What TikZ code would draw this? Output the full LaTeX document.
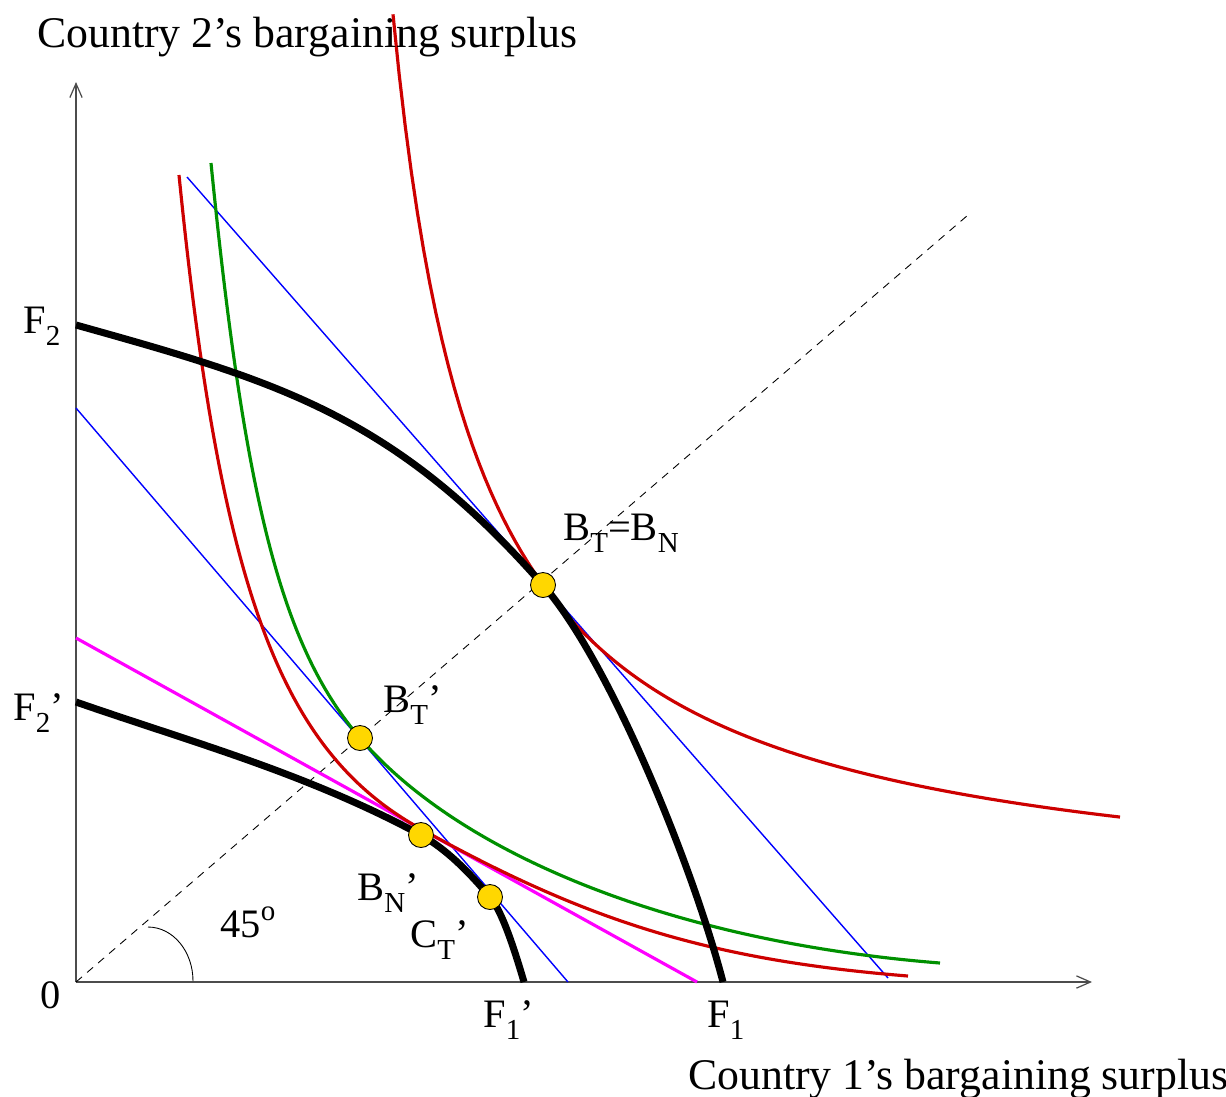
\documentclass[tikz,border=0pt]{standalone}
\usepackage{fontspec}
\usepackage{graphicx}
\setmainfont{Liberation Serif}
\usetikzlibrary{arrows.meta}
\definecolor{xred}{RGB}{205,0,0}
\definecolor{xgreen}{RGB}{0,144,0}
\definecolor{xgold}{RGB}{255,215,0}
\definecolor{xmagenta}{RGB}{255,0,255}
\newcommand\lsub[1]{\raisebox{-0.3em}{\fontsize{16.5}{18}\selectfont #1}}
\newcommand\lsup[1]{\raisebox{0.42em}{\fontsize{16.5}{18}\selectfont #1}}
\begin{document}
\begin{tikzpicture}[x=0.02cm,y=-0.02cm,
  axis/.style={draw=black!70, line width=0.7pt, -{Straight Barb[length=8pt,width=7pt]}},
  diagline/.style={draw=black, line width=0.5pt, dash pattern=on 4.5pt off 3.8pt},
  frontier/.style={draw=black, line width=4pt, line join=round},
  indiffred/.style={draw=xred, line width=1.8pt},
  indiffgreen/.style={draw=xgreen, line width=1.8pt},
  budget/.style={draw=blue, line width=0.8pt},
  tangent/.style={draw=xmagenta, line width=1.8pt},
  pt/.style={circle, fill=xgold, draw=black, line width=0.5pt, minimum size=0.5cm, inner sep=0pt},
  lbl/.style={inner sep=0pt, anchor=base west, font=\fontsize{23}{27}\selectfont},
  title/.style={inner sep=0pt, anchor=base west, font=\fontsize{24.9}{29}\selectfont}]
\useasboundingbox (0,0) rectangle (1226,1096);

% axes
\coordinate (O) at (76,982);
\coordinate (ytop) at (76,82);
\coordinate (xend) at (1092,982);
\coordinate (diag) at (968,215);
\draw[axis] (O) -- (ytop);
\draw[axis] (O) -- (xend);
\draw[diagline] (O) -- (diag);
\draw[line width=0.5pt] (193,981) arc[start angle=0, end angle=90, x radius=0.9cm, y radius=1.08cm];

% budget / tangent lines
\coordinate (b1s) at (187,177); \coordinate (b1e) at (888,978);
\coordinate (b2s) at (76,408);  \coordinate (b2e) at (568,982);
\coordinate (m1s) at (76,638);  \coordinate (m1e) at (697,982);
\draw[budget] (b1s) -- (b1e);
\draw[budget] (b2s) -- (b2e);
\draw[tangent] (m1s) -- (m1e);

% indifference curves
\draw[indiffred] plot[domain=393:1120, samples=120] (\x, {912-772/((\x-307)/100)});
\draw[indiffred] (179,175) .. controls (220.8,592.8) and (281.3,751.8) .. (421,829)
  .. controls (582.5,918.5) and (704.2,959.7) .. (908,976);
\draw[indiffgreen] (211,163) .. controls (245,503.5) and (282.3,647.3) .. (360,738)
  .. controls (458.6,853) and (669.8,941.5) .. (940,963);

% frontiers
\draw[frontier] (76,325) .. controls (276,381) and (393,414) .. (543,585)
  .. controls (608,659) and (691,860) .. (723,982);
\draw[frontier] (76,702) .. controls (191,742) and (306,773) .. (421,835)
  .. controls (446,849) and (468,871) .. (490,897)
  .. controls (502,911) and (514,948) .. (524,982);

% points
\node[pt] (BTN) at (543,585) {};
\node[pt] (BT) at (360,738) {};
\node[pt] (BN) at (421,835) {};
\node[pt] (CT) at (490,897) {};

% labels
\node[title] (ylab) at (37,47) {Country 2's bargaining surplus};
\node[title] (xlab) at (688,1089) {Country 1's bargaining surplus};
\node[lbl] (lF2) at (23,333) {F\lsub{2}};
\node[lbl] (lF2p) at (13,720) {F\lsub{2}'};
\node[lbl] (l0) at (40,1008) {0};
\node[lbl] (lF1p) at (483,1027) {F\lsub{1}'};
\node[lbl] (lF1) at (707,1027) {F\lsub{1}};
\node[lbl] (l45) at (220,937) {45\lsup{o}};
\node[lbl] (lBTN) at (563,540) {B\lsub{T}=B\lsub{N}};
\node[lbl] (lBT) at (383,712) {B\lsub{T}'};
\node[lbl] (lBN) at (357,900) {B\lsub{N}'};
\node[lbl] (lCT) at (410,947) {C\lsub{T}'};
\end{tikzpicture}
\end{document}
